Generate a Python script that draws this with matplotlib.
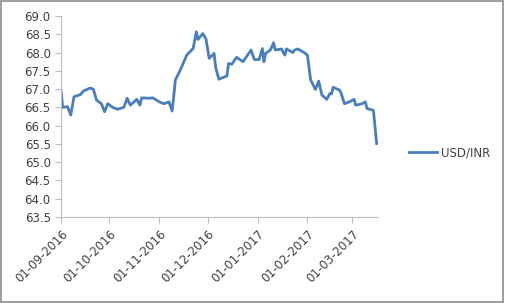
import matplotlib
matplotlib.use('Agg')
from matplotlib import pyplot as plt
from matplotlib.patches import Rectangle
import matplotlib.dates as mdates
import pandas as pd

# USD/INR
dates = ['2016-09-01', '2016-09-02', '2016-09-05', '2016-09-07', '2016-09-09',
         '2016-09-13', '2016-09-15', '2016-09-19', '2016-09-21', '2016-09-23',
         '2016-09-26', '2016-09-28', '2016-09-30', '2016-10-03', '2016-10-06',
         '2016-10-10', '2016-10-12', '2016-10-14', '2016-10-18', '2016-10-20',
         '2016-10-21', '2016-10-26', '2016-10-28', '2016-11-01', '2016-11-04',
         '2016-11-07', '2016-11-09', '2016-11-11', '2016-11-14', '2016-11-16',
         '2016-11-18', '2016-11-22', '2016-11-24', '2016-11-25', '2016-11-28',
         '2016-11-30', '2016-12-02', '2016-12-05', '2016-12-06', '2016-12-08',
         '2016-12-09', '2016-12-13', '2016-12-14', '2016-12-16', '2016-12-19',
         '2016-12-23', '2016-12-28', '2016-12-30', '2017-01-02', '2017-01-04',
         '2017-01-05', '2017-01-06', '2017-01-09', '2017-01-11', '2017-01-12',
         '2017-01-16', '2017-01-17', '2017-01-18', '2017-01-19', '2017-01-23',
         '2017-01-24', '2017-01-26', '2017-01-30', '2017-02-01', '2017-02-03',
         '2017-02-06', '2017-02-07', '2017-02-08', '2017-02-10', '2017-02-13',
         '2017-02-15', '2017-02-16', '2017-02-17', '2017-02-21', '2017-02-22',
         '2017-02-24', '2017-02-27', '2017-03-02', '2017-03-03', '2017-03-07',
         '2017-03-09', '2017-03-10', '2017-03-14', '2017-03-16']
usd_inr = [66.95, 66.50, 66.52, 66.29, 66.79,
           66.85, 66.95, 67.03, 67.00, 66.70,
           66.60, 66.38, 66.60, 66.50, 66.45,
           66.50, 66.75, 66.56, 66.72, 66.56,
           66.76, 66.75, 66.76, 66.65, 66.60,
           66.65, 66.40, 67.25, 67.52, 67.72,
           67.93, 68.11, 68.57, 68.36, 68.52,
           68.37, 67.84, 67.98, 67.60, 67.27,
           67.29, 67.36, 67.70, 67.68, 67.87,
           67.75, 68.07, 67.81, 67.81, 68.11,
           67.75, 67.98, 68.07, 68.27, 68.07,
           68.10, 68.00, 67.93, 68.10, 68.00,
           68.07, 68.10, 68.00, 67.93, 67.25,
           66.99, 67.10, 67.22, 66.84, 66.72,
           66.88, 66.87, 67.05, 66.97, 66.88,
           66.60, 66.65, 66.72, 66.56, 66.60,
           66.65, 66.47, 66.42, 65.51]
tick_dates = ['2016-09-01', '2016-10-01', '2016-11-01', '2016-12-01',
              '2017-01-01', '2017-02-01', '2017-03-01']
y_ticks = [63.5 + 0.5 * i for i in range(12)]

x = pd.to_datetime(dates)
txt = '#404040'
axc = '#BFBFBF'

fig = plt.figure(figsize=(5.05, 3.03), dpi=100)
ax = fig.add_axes([0.121, 0.284, 0.628, 0.663])
line, = ax.plot(x, usd_inr, color='#4A7EBB', lw=2.0, label='USD/INR')

ax.set_ylim(63.5, 69.0)
ax.set_yticks(y_ticks)
ax.set_yticklabels(['%.1f' % v for v in y_ticks])
ax.set_xlim(pd.Timestamp('2016-09-01'), pd.Timestamp('2017-03-17'))
ax.set_xticks(pd.to_datetime(tick_dates))
ax.xaxis.set_major_formatter(mdates.DateFormatter('%d-%m-%Y'))

for s in ['top', 'right']:
    ax.spines[s].set_visible(False)
for s in ['left', 'bottom']:
    ax.spines[s].set_color(axc)
    ax.spines[s].set_linewidth(0.8)
ax.tick_params(axis='both', colors=axc, labelcolor=txt, labelsize=8.5,
               length=4, width=0.8)
for lab in ax.get_xticklabels():
    lab.set_rotation(45)
    lab.set_ha('right')
    lab.set_rotation_mode('anchor')

fig.legend(handles=[line], loc='center left', bbox_to_anchor=(0.81, 0.495),
           frameon=False, fontsize=8.5, labelcolor=txt, handlelength=2.4,
           handletextpad=0.3, borderpad=0, borderaxespad=0)

fig.patches.append(Rectangle((0.001, 0.002), 0.995, 0.994, transform=fig.transFigure,
                             fill=False, edgecolor='#8C8C8C', lw=1.2))

fig.savefig('out.png', dpi=100)
